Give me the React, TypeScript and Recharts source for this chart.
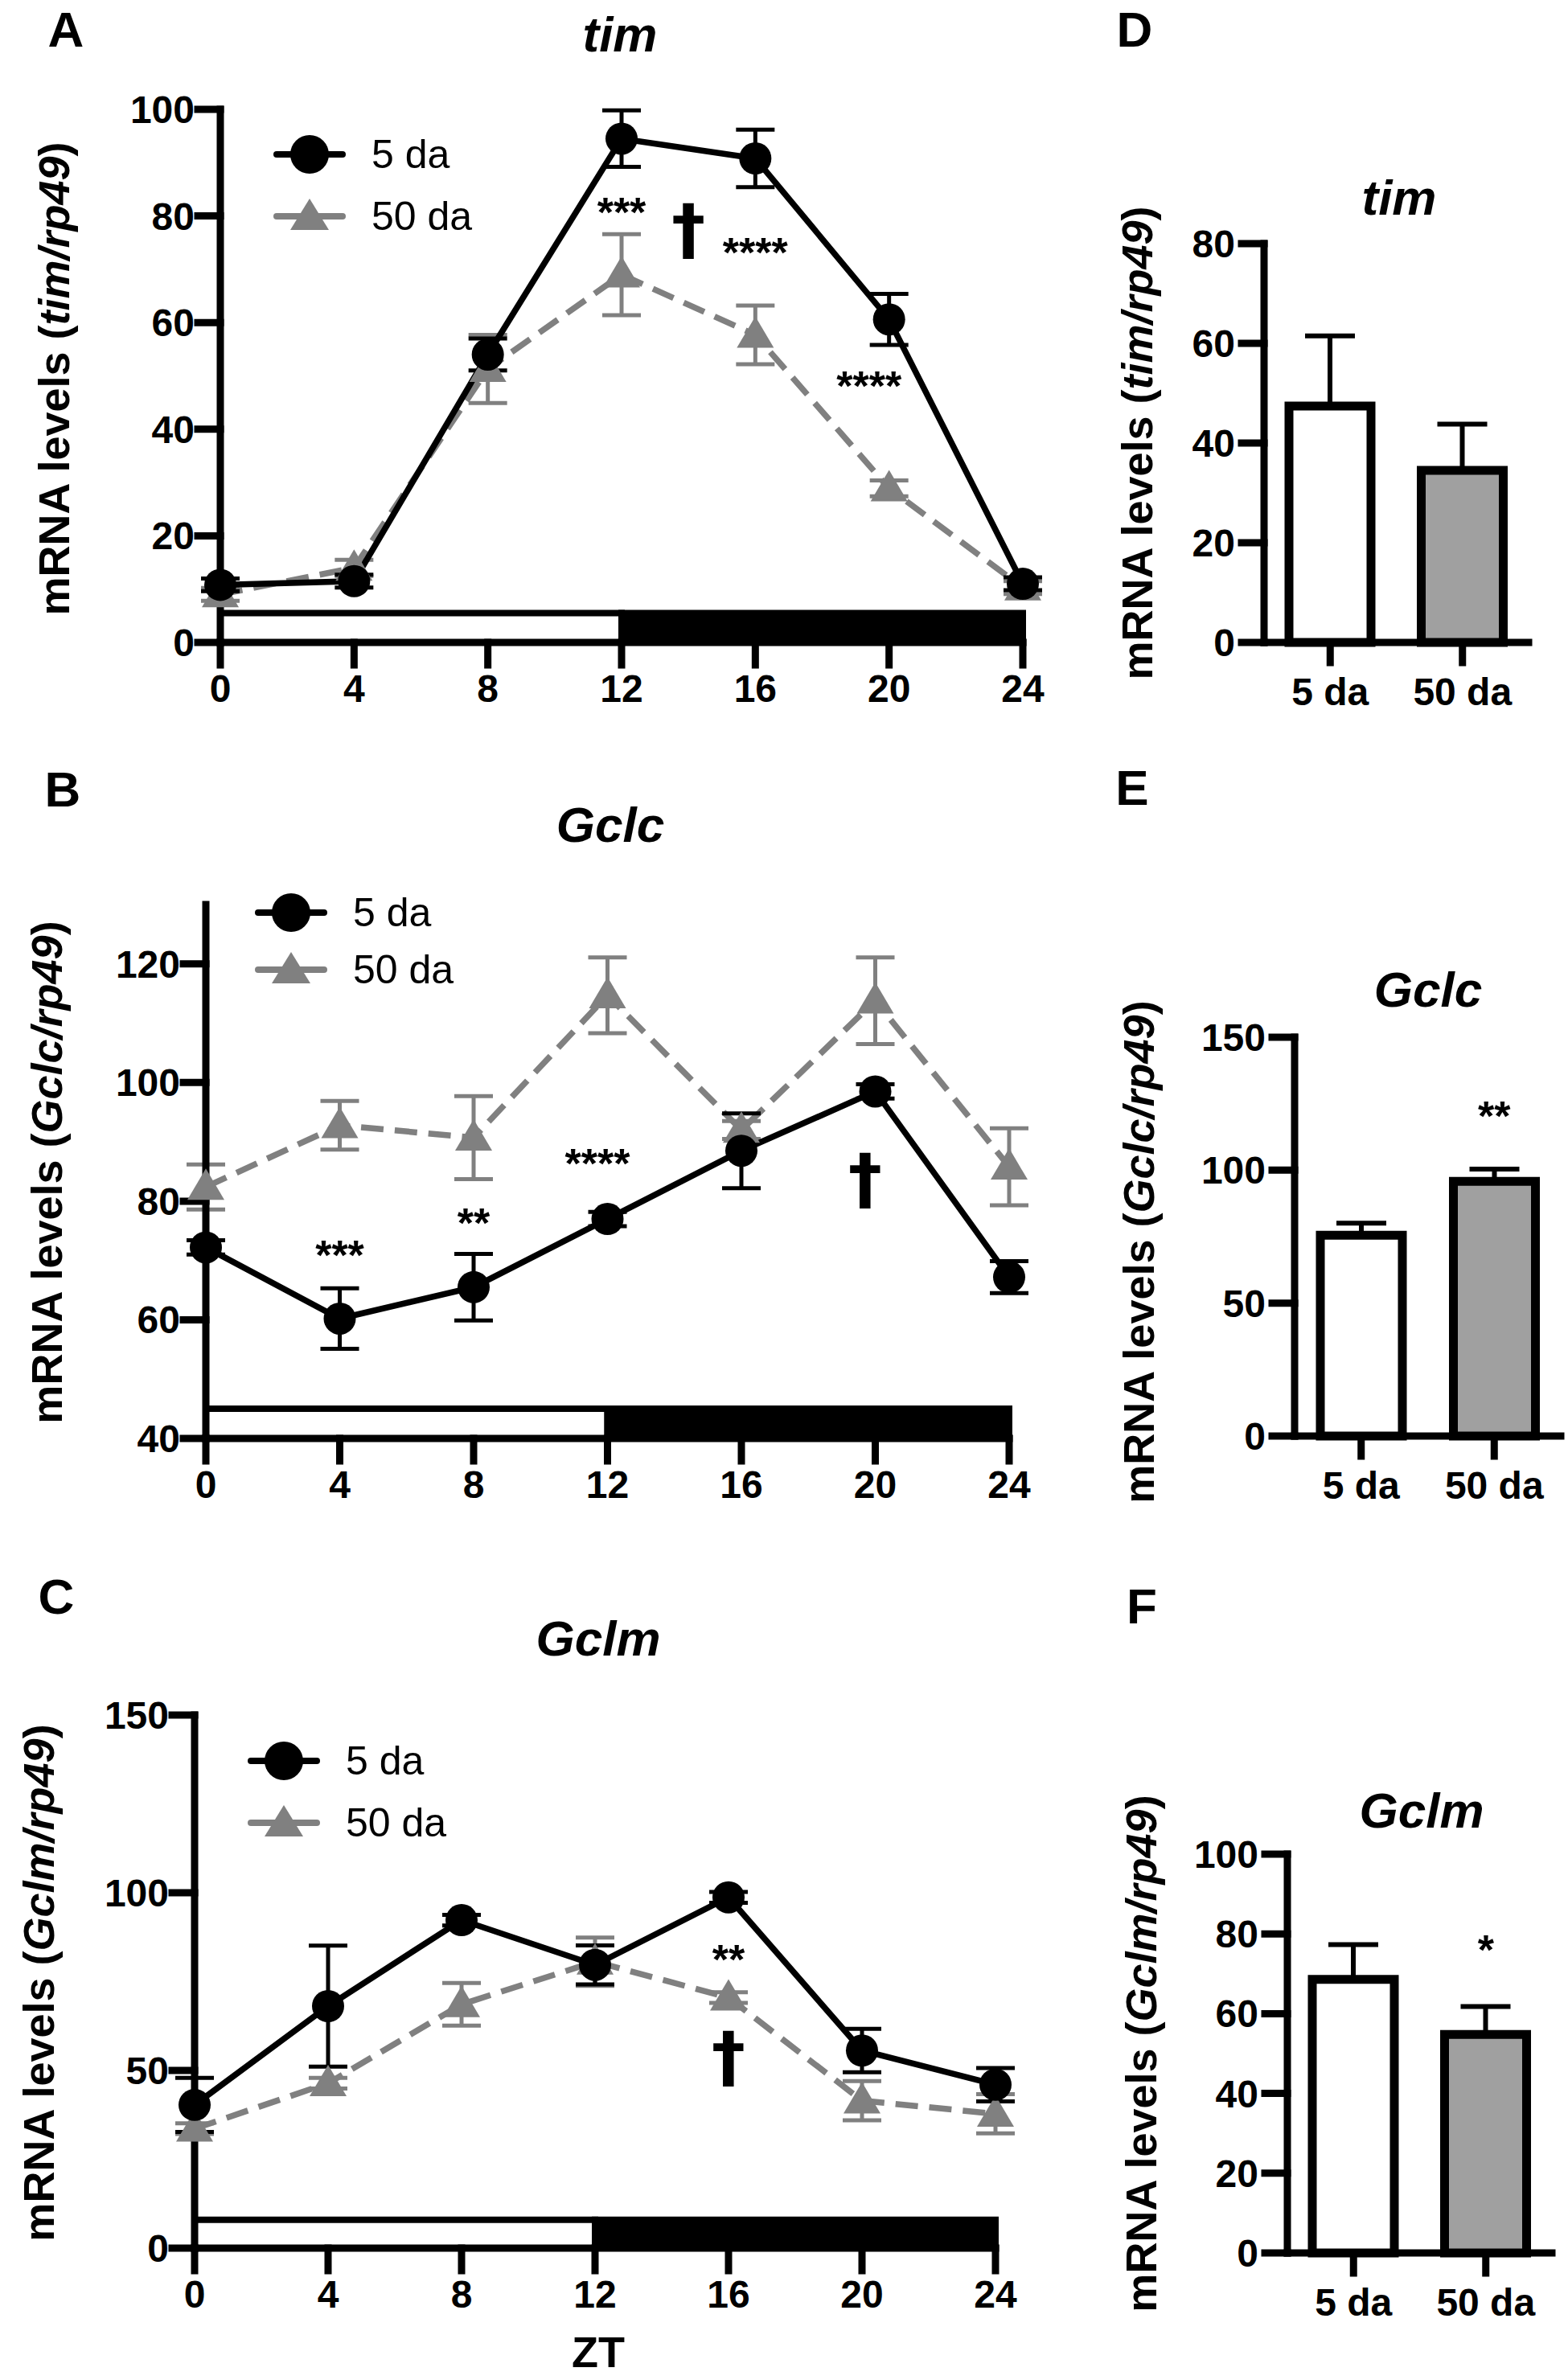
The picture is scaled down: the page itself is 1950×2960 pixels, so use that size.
import {
  Bar,
  BarChart,
  Cell,
  ComposedChart,
  ErrorBar,
  Legend,
  Line,
  ReferenceArea,
  ReferenceDot,
  XAxis,
  YAxis,
} from "recharts";

// ---- data ----
const ZT = [0, 4, 8, 12, 16, 20, 24];

// A: tim
const TIM_5DA = [10.8, 11.5, 54.0, 94.5, 90.8, 60.6, 11.0];
const TIM_5DA_SEM = [1.2, 1.2, 3.0, 5.3, 5.4, 4.8, 1.2];
const TIM_50DA = [9.0, 14.0, 51.3, 69.0, 57.7, 28.9, 10.3];
const TIM_50DA_SEM = [1.2, 1.5, 6.4, 7.6, 5.5, 1.5, 1.2];
const TIM_MARKS = [
  { zt: 12, y: 82.5, text: "***" },
  { zt: 14, y: 77, text: "†" },
  { zt: 16, y: 75, text: "****" },
  { zt: 19.4, y: 50, text: "****" },
];

// B: Gclc
const GCLC_5DA = [72.2, 60.2, 65.5, 77.0, 88.5, 98.5, 67.2];
const GCLC_5DA_SEM = [1.2, 5.1, 5.6, 1.2, 6.3, 1.2, 2.7];
const GCLC_50DA = [82.4, 92.8, 90.7, 114.7, 92.0, 113.8, 85.8];
const GCLC_50DA_SEM = [3.8, 4.1, 7.0, 6.4, 1.5, 7.3, 6.5];
const GCLC_MARKS = [
  { zt: 4, y: 72.5, text: "***" },
  { zt: 8, y: 78, text: "**" },
  { zt: 11.7, y: 88, text: "****" },
  { zt: 19.7, y: 83.3, text: "†" },
];

// C: Gclm
const GCLM_5DA = [40.3, 68.1, 92.3, 79.7, 98.7, 55.6, 46.0];
const GCLM_5DA_SEM = [7.6, 17.0, 1.5, 5.5, 1.5, 6.1, 4.7];
const GCLM_50DA = [33.6, 46.4, 68.6, 80.6, 70.5, 41.5, 37.8];
const GCLM_50DA_SEM = [1.5, 1.5, 6.0, 6.8, 1.5, 5.5, 5.5];
const GCLM_MARKS = [
  { zt: 16, y: 84, text: "**" },
  { zt: 16, y: 53, text: "†" },
];

// light/dark bar under each time course
const LD_PHASES = [
  { phase: "light", from: 0, to: 12 },
  { phase: "dark", from: 12, to: 24 },
];

// D-F: daily means
const BAR_GROUPS = ["5 da", "50 da"];
const TIM_BAR_MEAN = [47.4, 34.5];
const TIM_BAR_SEM = [14.1, 9.3];
const GCLC_BAR_MEAN = [75.5, 95.8];
const GCLC_BAR_SEM = [4.6, 4.6];
const GCLC_BAR_MARKS = [{ group: "50 da", y: 124, text: "**" }];
const GCLM_BAR_MEAN = [68.6, 54.8];
const GCLM_BAR_SEM = [8.7, 7.0];
const GCLM_BAR_MARKS = [{ group: "50 da", y: 78.5, text: "*" }];

// ---- styling ----
const FONT = "'Liberation Sans', Arial, Helvetica, sans-serif";
const DAGGER_FONT = "'DejaVu Sans', 'Liberation Sans', sans-serif";
const GRAY = "#808080";
const BAR_GRAY = "#a0a0a0";
const AXIS = { stroke: "#000", strokeWidth: 9, strokeLinecap: "square" as const };
const TICK = { fill: "#000", fontSize: 48, fontWeight: 700, fontFamily: FONT };

const YW = 150;
const XH = 80;

type Plot = { l: number; r: number; t: number; b: number };

function layout(p: Plot, right: number) {
  const margin = { top: 60, right, bottom: 20, left: 50 };
  return {
    margin,
    left: p.l - YW - margin.left,
    top: p.t - margin.top,
    width: p.r - p.l + YW + margin.left + margin.right,
    height: p.b - p.t + margin.top + XH + margin.bottom,
  };
}

function markShape(text: string) {
  const dagger = text === "†";
  const fs = dagger ? 84 : 52;
  const shift = dagger ? 0.3 * fs : 0.58 * fs;
  return (p: any) => (
    <text
      x={p.cx}
      y={p.cy + shift}
      textAnchor="middle"
      fontFamily={dagger ? DAGGER_FONT : FONT}
      fontWeight={700}
      fontSize={fs}
      fill="#000"
    >
      {text}
    </text>
  );
}

function triangleDot(props: any) {
  const { cx, cy, index } = props;
  if (cx == null || cy == null) return <g key={`t-${index}`} />;
  return (
    <path
      key={`t-${index}`}
      d={`M${cx},${cy - 23} L${cx + 23},${cy + 16} L${cx - 23},${cy + 16} Z`}
      fill={GRAY}
    />
  );
}

function circleDot(props: any) {
  const { cx, cy, index } = props;
  if (cx == null || cy == null) return <g key={`c-${index}`} />;
  return <circle key={`c-${index}`} cx={cx} cy={cy} r={20} fill="#000" />;
}

function SeriesLegend({ payload, rowGap }: { payload?: any[]; rowGap: number }) {
  const items = ["young", "old"]
    .map((k) => (payload ?? []).find((e) => e.dataKey === k))
    .filter(Boolean);
  return (
    <svg width={360} height={rowGap + 60} style={{ overflow: "visible" }}>
      {items.map((e: any, i: number) => {
        const y = 30 + i * rowGap;
        const young = e.dataKey === "young";
        const col = young ? "#000" : GRAY;
        return (
          <g key={e.dataKey}>
            <line x1={2} x2={84} y1={y} y2={y} stroke={col} strokeWidth={8} strokeLinecap="round" />
            {young ? (
              <circle cx={43} cy={y} r={24} fill="#000" />
            ) : (
              <path d={`M43,${y - 22} L67,${y + 17} L19,${y + 17} Z`} fill={GRAY} />
            )}
            <text x={120} y={y} dominantBaseline="central" fontSize={50} fontFamily={FONT} fill="#000">
              {e.value}
            </text>
          </g>
        );
      })}
    </svg>
  );
}

interface LinePanelProps {
  plot: Plot;
  yDomain: [number, number];
  yTicks: number[];
  young: number[];
  youngSem: number[];
  old: number[];
  oldSem: number[];
  marks: { zt: number; y: number; text: string }[];
  ldTop: number;
  legend: { x: number; y: number; gap: number };
}

function LinePanel(props: LinePanelProps) {
  const { plot, yDomain, yTicks, young, youngSem, old, oldSem, marks, ldTop, legend } = props;
  const box = layout(plot, 60);
  const data = ZT.map((zt, i) => ({
    zt,
    young: young[i],
    youngSem: youngSem[i],
    old: old[i],
    oldSem: oldSem[i],
  }));
  return (
    <div style={{ position: "absolute", left: box.left, top: box.top }}>
      <ComposedChart width={box.width} height={box.height} data={data} margin={box.margin}>
        <XAxis
          dataKey="zt"
          type="number"
          domain={[0, 24]}
          ticks={ZT}
          interval={0}
          height={XH}
          tickSize={28}
          tickMargin={12}
          axisLine={AXIS}
          tickLine={AXIS}
          tick={TICK}
        />
        <YAxis
          type="number"
          domain={yDomain}
          ticks={yTicks}
          interval={0}
          width={YW}
          tickSize={28}
          tickMargin={4}
          axisLine={AXIS}
          tickLine={AXIS}
          tick={TICK}
        />
        {LD_PHASES.map((p) => (
          <ReferenceArea
            key={p.phase}
            x1={p.from}
            x2={p.to}
            y1={yDomain[0]}
            y2={ldTop}
            fill={p.phase === "light" ? "#fff" : "#000"}
            fillOpacity={1}
            stroke="#000"
            strokeWidth={8}
            ifOverflow="visible"
          />
        ))}
        <Line
          dataKey="old"
          name="50 da"
          type="linear"
          stroke={GRAY}
          strokeWidth={7.5}
          strokeDasharray="28 14"
          dot={triangleDot}
          activeDot={false}
          isAnimationActive={false}
        >
          <ErrorBar dataKey="oldSem" direction="y" width={24} strokeWidth={5} stroke={GRAY} />
        </Line>
        <Line
          dataKey="young"
          name="5 da"
          type="linear"
          stroke="#000"
          strokeWidth={7.5}
          dot={circleDot}
          activeDot={false}
          isAnimationActive={false}
        >
          <ErrorBar dataKey="youngSem" direction="y" width={24} strokeWidth={5} stroke="#000" />
        </Line>
        {marks.map((m, i) => (
          <ReferenceDot key={i} x={m.zt} y={m.y} r={0} shape={markShape(m.text)} />
        ))}
        <Legend
          layout="vertical"
          align="center"
          verticalAlign="middle"
          wrapperStyle={{ left: legend.x - box.left, top: legend.y - 30 - box.top, width: 360 }}
          content={(p: any) => <SeriesLegend payload={p.payload} rowGap={legend.gap} />}
        />
      </ComposedChart>
    </div>
  );
}

interface BarPanelProps {
  plot: Plot;
  yDomain: [number, number];
  yTicks: number[];
  means: number[];
  sems: number[];
  marks: { group: string; y: number; text: string }[];
}

function BarPanel({ plot, yDomain, yTicks, means, sems, marks }: BarPanelProps) {
  const box = layout(plot, 8);
  const data = BAR_GROUPS.map((group, i) => ({ group, mean: means[i], sem: [0, sems[i]] }));
  return (
    <div style={{ position: "absolute", left: box.left, top: box.top }}>
      <BarChart width={box.width} height={box.height} data={data} margin={box.margin}>
        <XAxis
          dataKey="group"
          type="category"
          height={XH}
          tickSize={25}
          tickMargin={19}
          axisLine={AXIS}
          tickLine={AXIS}
          tick={TICK}
        />
        <YAxis
          type="number"
          domain={yDomain}
          ticks={yTicks}
          interval={0}
          width={YW}
          tickSize={28}
          tickMargin={8}
          axisLine={AXIS}
          tickLine={AXIS}
          tick={TICK}
        />
        <Bar dataKey="mean" barSize={102} stroke="#000" strokeWidth={11} isAnimationActive={false}>
          {data.map((d, i) => (
            <Cell key={d.group} fill={i === 0 ? "#fff" : BAR_GRAY} />
          ))}
          <ErrorBar dataKey="sem" direction="y" width={31} strokeWidth={6} stroke="#000" />
        </Bar>
        {marks.map((m, i) => (
          <ReferenceDot key={i} x={m.group} y={m.y} r={0} shape={markShape(m.text)} />
        ))}
      </BarChart>
    </div>
  );
}

function YLabel({ x, y, gene }: { x: number; y: number; gene: string }) {
  return (
    <text
      x={x}
      y={y}
      transform={`rotate(-90 ${x} ${y})`}
      textAnchor="middle"
      dominantBaseline="central"
      fontFamily={FONT}
      fontWeight={700}
      fontSize={54}
      fill="#000"
    >
      mRNA levels (<tspan fontStyle="italic">{gene}/rp49</tspan>)
    </text>
  );
}

function PanelText() {
  const letters: [string, number, number][] = [
    ["A", 82, 36],
    ["B", 78, 981],
    ["C", 70, 1985],
    ["D", 1411, 36],
    ["E", 1408, 979],
    ["F", 1420, 1997],
  ];
  const titles: [string, number, number][] = [
    ["tim", 771, 42],
    ["Gclc", 759, 1025],
    ["Gclm", 744, 2037],
    ["tim", 1740, 245],
    ["Gclc", 1776, 1230],
    ["Gclm", 1768, 2251],
  ];
  const ylabels: [string, number, number][] = [
    ["tim", 67, 471],
    ["Gclc", 58, 1458],
    ["Gclm", 48, 2466],
    ["tim", 1414, 551],
    ["Gclc", 1416, 1557],
    ["Gclm", 1419, 2554],
  ];
  return (
    <svg
      width={1950}
      height={2960}
      style={{ position: "absolute", left: 0, top: 0, pointerEvents: "none" }}
    >
      {letters.map(([t, x, y]) => (
        <text key={t} x={x} y={y} textAnchor="middle" dominantBaseline="central"
          fontFamily={FONT} fontWeight={700} fontSize={62} fill="#000">
          {t}
        </text>
      ))}
      {titles.map(([t, x, y], i) => (
        <text key={i} x={x} y={y} textAnchor="middle" dominantBaseline="central"
          fontFamily={FONT} fontWeight={700} fontStyle="italic" fontSize={62} fill="#000">
          {t}
        </text>
      ))}
      {ylabels.map(([g, x, y], i) => (
        <YLabel key={i} x={x} y={y} gene={g} />
      ))}
      <text x={744} y={2925} textAnchor="middle" dominantBaseline="central"
        fontFamily={FONT} fontWeight={700} fontSize={54} fill="#000">
        ZT
      </text>
    </svg>
  );
}

export default function App() {
  return (
    <div
      style={{
        position: "absolute",
        left: 0,
        top: 0,
        width: 1950,
        height: 2960,
        background: "#fff",
        overflow: "hidden",
      }}
    >
      <PanelText />
      <LinePanel
        plot={{ l: 274, r: 1272, t: 136, b: 799 }}
        yDomain={[0, 100]}
        yTicks={[0, 20, 40, 60, 80, 100]}
        young={TIM_5DA}
        youngSem={TIM_5DA_SEM}
        old={TIM_50DA}
        oldSem={TIM_50DA_SEM}
        marks={TIM_MARKS}
        ldTop={5.5}
        legend={{ x: 342, y: 192, gap: 77 }}
      />
      <LinePanel
        plot={{ l: 256, r: 1255, t: 1125, b: 1789 }}
        yDomain={[40, 130]}
        yTicks={[40, 60, 80, 100, 120]}
        young={GCLC_5DA}
        youngSem={GCLC_5DA_SEM}
        old={GCLC_50DA}
        oldSem={GCLC_50DA_SEM}
        marks={GCLC_MARKS}
        ldTop={45}
        legend={{ x: 319, y: 1135, gap: 71 }}
      />
      <LinePanel
        plot={{ l: 242, r: 1238, t: 2133, b: 2796 }}
        yDomain={[0, 150]}
        yTicks={[0, 50, 100, 150]}
        young={GCLM_5DA}
        youngSem={GCLM_5DA_SEM}
        old={GCLM_50DA}
        oldSem={GCLM_50DA_SEM}
        marks={GCLM_MARKS}
        ldTop={8}
        legend={{ x: 310, y: 2190, gap: 77 }}
      />
      <BarPanel
        plot={{ l: 1572, r: 1901, t: 303, b: 799 }}
        yDomain={[0, 80]}
        yTicks={[0, 20, 40, 60, 80]}
        means={TIM_BAR_MEAN}
        sems={TIM_BAR_SEM}
        marks={[]}
      />
      <BarPanel
        plot={{ l: 1610, r: 1941, t: 1290, b: 1786 }}
        yDomain={[0, 150]}
        yTicks={[0, 50, 100, 150]}
        means={GCLC_BAR_MEAN}
        sems={GCLC_BAR_SEM}
        marks={GCLC_BAR_MARKS}
      />
      <BarPanel
        plot={{ l: 1601, r: 1930, t: 2306, b: 2802 }}
        yDomain={[0, 100]}
        yTicks={[0, 20, 40, 60, 80, 100]}
        means={GCLM_BAR_MEAN}
        sems={GCLM_BAR_SEM}
        marks={GCLM_BAR_MARKS}
      />
    </div>
  );
}
